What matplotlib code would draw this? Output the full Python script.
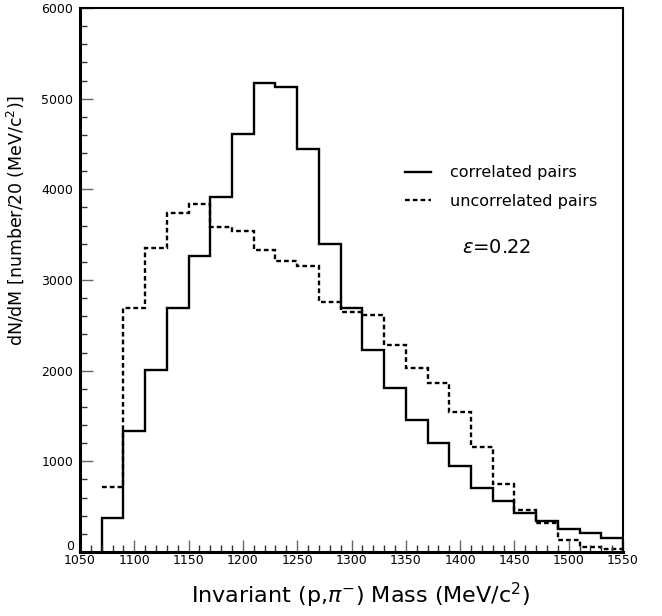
import matplotlib
matplotlib.use('Agg')
import matplotlib.pyplot as plt
import numpy as np
from matplotlib.ticker import MultipleLocator, FuncFormatter

# bin edges (MeV/c^2), 20 MeV bins
edges = np.arange(1070, 1551, 20)

correlated = [380, 1338, 2002, 2688, 3267, 3919, 4605, 5173, 5126, 4440,
              3396, 2688, 2223, 1811, 1453, 1202, 944, 705, 564, 428,
              346, 251, 214, 158]
uncorrelated = [715, 2688, 3352, 3739, 3842, 3584, 3536, 3333, 3208, 3156,
                2758, 2647, 2611, 2286, 2028, 1869, 1541, 1154, 752, 465,
                324, 133, 52, 30]

plt.rcParams['font.family'] = 'DejaVu Sans'

fig = plt.figure(figsize=(6.62, 6.16), dpi=100)
ax = fig.add_axes([80/662, 1-552/616, 543/662, 544/616])

ax.stairs(correlated, edges, baseline=0, color='black', linewidth=1.7,
          label='correlated pairs')
ax.stairs(uncorrelated, edges, baseline=None, color='black', linewidth=1.7,
          linestyle=(0, (2.0, 1.3)), label='uncorrelated pairs')

ax.set_xlim(1050, 1550)
ax.set_ylim(0, 6000)
ax.xaxis.set_major_locator(MultipleLocator(50))
ax.xaxis.set_minor_locator(MultipleLocator(10))
ax.yaxis.set_major_locator(MultipleLocator(1000))
ax.yaxis.set_minor_locator(MultipleLocator(200))
# the "0" label is drawn separately, just above the 1050 label
ax.yaxis.set_major_formatter(FuncFormatter(lambda v, p: '' if v == 0 else f'{v:.0f}'))
ax.tick_params(axis='both', which='major', direction='in', length=9, width=1,
               color='#666666', labelsize=9)
ax.tick_params(axis='both', which='minor', direction='in', length=5, width=1,
               color='#333333')
ax.tick_params(axis='x', which='major', pad=1.5)
ax.tick_params(axis='y', which='major', pad=5)
ax.tick_params(top=False, right=False)
ax.annotate('0', xy=(0, 0), xycoords='axes fraction', xytext=(-4, 4.3),
            textcoords='offset points', ha='right', va='center', fontsize=9)

for s in ['left', 'bottom']:
    ax.spines[s].set_linewidth(2.2)
for s in ['top', 'right']:
    ax.spines[s].set_linewidth(1.5)

ax.set_xlabel(r'Invariant (p,$\pi^{-}$) Mass (MeV/c$^{2}$)', fontsize=16)
ax.xaxis.set_label_coords(0.516, -0.053)
ax.set_ylabel(r'dN/dM [number/20 (MeV/c$^{2}$)]', fontsize=12.5)
ax.yaxis.set_label_coords(-0.10, 0.61)

ax.legend(loc='upper left', bbox_to_anchor=(0.599, 0.711), frameon=False,
          fontsize=11.5, handlelength=1.6, handletextpad=1.2, labelspacing=0.86,
          borderpad=0, borderaxespad=0)

ax.text(0.767, 0.560, r'$\varepsilon$=0.22', transform=ax.transAxes,
        fontsize=14, ha='center', va='center')

fig.savefig('out.png', dpi=100)
